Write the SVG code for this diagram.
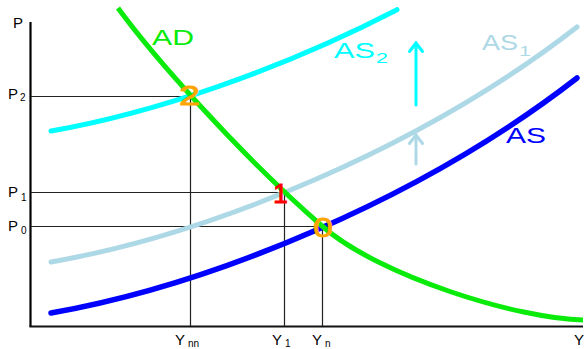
<svg xmlns="http://www.w3.org/2000/svg" width="586" height="349" viewBox="0 0 586 349">
<style>
text{font-family:"Liberation Sans",Arial,sans-serif}
.ax{font-size:15px;fill:#000}
.sub{font-size:10px;fill:#000}
.curve{fill:none;stroke-linecap:round}
.guide{stroke:#222;stroke-width:1.2;fill:none}
.big{font-size:22px}
.pt{font-size:28px}
</style>
<rect width="586" height="349" fill="#fff"/>
<g id="axes">
<line x1="30.5" y1="22" x2="30.5" y2="327" stroke="#000" stroke-width="2.2"/>
<line x1="29.5" y1="326.5" x2="583" y2="326.5" stroke="#111" stroke-width="2"/>
<text class="ax" x="13" y="28">P</text>
<text class="ax" x="574" y="345">Y</text>
</g>
<g id="connectors">
<path class="guide" d="M31,96.5H190.5V326"/>
<path class="guide" d="M31,192.5H284.5V326"/>
<path class="guide" d="M31,226.5H322.5V326"/>
<g id="arrow-up-cyan" stroke="#00FFFF" stroke-width="3" fill="none" stroke-linecap="round">
<line x1="416" y1="105" x2="416" y2="43"/>
<polyline points="409.5,51.5 416,43 422.5,51.5"/>
</g>
<g id="arrow-up-lightblue" stroke="#ADD8E6" stroke-width="3" fill="none" stroke-linecap="round">
<line x1="416" y1="164" x2="416" y2="135"/>
<polyline points="409.5,143.5 416,135 422.5,143.5"/>
</g>
</g>
<g id="AS">
<path class="curve" d="M51,313 C210,285 420,200 577,78" stroke="#0000FF" stroke-width="5.5"/>
<text class="big" x="506" y="143" fill="#0000FF" textLength="40" lengthAdjust="spacingAndGlyphs">AS</text>
</g>
<g id="AS1">
<path class="curve" d="M51,262 C210,234 420,149 577,27" stroke="#ADD8E6" stroke-width="5"/>
<text class="big" x="482" y="50" fill="#ADD8E6" textLength="36" lengthAdjust="spacingAndGlyphs">AS</text>
<text x="519" y="56" fill="#ADD8E6" font-size="14" textLength="12" lengthAdjust="spacingAndGlyphs">1</text>
</g>
<g id="AS2">
<path class="curve" d="M51,131 C154.35,112.8 279.25,70.5 397,9.7" stroke="#00FFFF" stroke-width="5"/>
<text class="big" x="334" y="58" fill="#00FFFF" textLength="41" lengthAdjust="spacingAndGlyphs">AS</text>
<text x="376" y="63" fill="#00FFFF" font-size="14" textLength="12" lengthAdjust="spacingAndGlyphs">2</text>
</g>
<g id="AD">
<path d="M118,8 C150,52 235,150 322,226 C380,277 520,319 583,320" fill="none" stroke="#0BEB0B" stroke-width="5"/>
<text class="big" x="152" y="45" fill="#0BEB0B" textLength="42" lengthAdjust="spacingAndGlyphs">AD</text>
</g>
<g id="point2">
<text class="pt" x="179" y="105" fill="#FFA500" stroke="#FFA500" stroke-width="0.8" textLength="21" lengthAdjust="spacingAndGlyphs">2</text>
</g>
<g id="point1">
<text class="pt" x="273" y="203" fill="#FF0000" stroke="#FF0000" stroke-width="0.8" textLength="15" lengthAdjust="spacingAndGlyphs">1</text>
</g>
<g id="point0">
<text class="pt" x="313" y="237" fill="#FFA500" stroke="#FFA500" stroke-width="0.8" textLength="20" lengthAdjust="spacingAndGlyphs">0</text>
</g>
<g id="labels">
<text class="ax" x="8" y="99">P</text><text class="sub" x="20" y="101">2</text>
<text class="ax" x="8" y="197">P</text><text class="sub" x="21" y="201">1</text>
<text class="ax" x="8" y="231">P</text><text class="sub" x="21" y="234">0</text>
<text class="ax" x="175" y="345">Y</text><text class="sub" x="188" y="347" font-size="11">nn</text>
<text class="ax" x="272" y="345">Y</text><text class="sub" x="285" y="347">1</text>
<text class="ax" x="312" y="345">Y</text><text class="sub" x="325" y="347">n</text>
</g>
</svg>
